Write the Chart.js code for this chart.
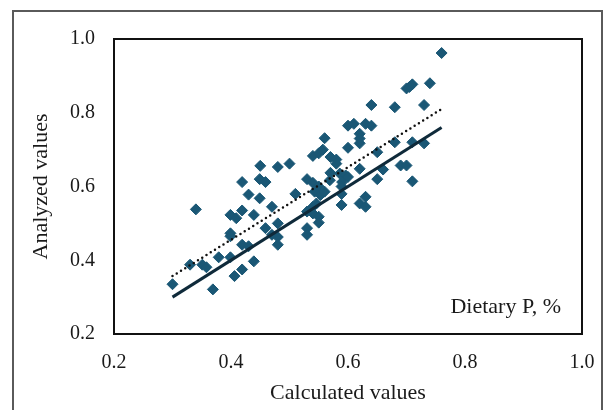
<!DOCTYPE html>
<html>
<head>
<meta charset="utf-8">
<script src="https://cdn.jsdelivr.net/npm/chart.js@4/dist/chart.umd.min.js"></script>
<style>
  body { margin: 0; background: #fff; }
  canvas { display: block; }
</style>
</head>
<body>
<canvas id="myChart" width="605" height="410"></canvas>
<script>
// calculated vs analyzed dietary P (%)
var calculated = [0.76,0.70,0.705,0.71,0.74,0.73,0.64,0.68,0.60,0.61,0.63,0.64,0.62,0.62,0.62,0.56,0.60,0.68,0.71,0.73,
  0.65,0.54,0.55,0.557,0.57,0.58,0.58,0.57,0.569,0.586,0.596,0.60,0.59,0.589,0.589,0.589,0.62,0.62,0.63,0.63,
  0.65,0.66,0.69,0.70,0.71,0.53,0.54,0.55,0.543,0.553,0.56,0.546,0.54,0.53,0.54,0.55,0.55,0.53,0.53,0.51,
  0.50,0.48,0.45,0.449,0.459,0.419,0.43,0.449,0.419,0.399,0.409,0.439,0.47,0.48,0.459,0.399,0.399,0.419,0.43,0.47,
  0.48,0.48,0.439,0.399,0.379,0.419,0.406,0.34,0.33,0.351,0.358,0.369,0.30];
var analyzed = [0.962,0.866,0.87,0.877,0.88,0.821,0.821,0.815,0.765,0.77,0.77,0.765,0.743,0.73,0.717,0.731,0.705,0.72,0.72,0.717,
  0.693,0.683,0.69,0.70,0.68,0.673,0.662,0.637,0.617,0.635,0.63,0.626,0.612,0.60,0.58,0.55,0.648,0.554,0.572,0.545,
  0.62,0.646,0.657,0.657,0.614,0.62,0.61,0.60,0.586,0.577,0.586,0.554,0.545,0.532,0.527,0.518,0.502,0.487,0.469,0.58,
  0.662,0.653,0.656,0.62,0.612,0.612,0.578,0.568,0.535,0.523,0.514,0.523,0.545,0.50,0.487,0.473,0.465,0.442,0.438,0.469,
  0.463,0.442,0.397,0.408,0.408,0.375,0.357,0.538,0.388,0.388,0.381,0.321,0.335];
var fitX = [0.30, 0.76];
var fitSolid = [0.30, 0.76];
var fitDotted = [0.357, 0.81];
var tickValues = [0.2, 0.4, 0.6, 0.8, 1.0];

function toPoints(xs, ys) {
  var pts = [];
  xs.forEach(function (x, i) { pts.push({x: x, y: ys[i]}); });
  return pts;
}

var serif = "'Liberation Serif', 'Times New Roman', serif";

var framePlugin = {
  id: 'frames',
  beforeDraw: function (chart) {
    var ctx = chart.ctx;
    ctx.save();
    ctx.strokeStyle = '#5a5a5a';
    ctx.lineWidth = 2;
    ctx.strokeRect(13, 11, 589, 420);
    ctx.restore();
  },
  afterDraw: function (chart) {
    var a = chart.chartArea;
    var ctx = chart.ctx;
    ctx.save();
    ctx.strokeStyle = '#111';
    ctx.lineWidth = 2;
    ctx.strokeRect(a.left, a.top, a.right - a.left, a.bottom - a.top);
    ctx.fillStyle = '#1a1a1a';
    ctx.font = "22px " + serif;
    ctx.textAlign = 'right';
    ctx.textBaseline = 'middle';
    ctx.fillText('Dietary P, %', a.right - 21, a.bottom - 27);
    ctx.restore();
  }
};

new Chart("myChart", {
  type: "scatter",
  data: {
    datasets: [{
      data: toPoints(calculated, analyzed),
      backgroundColor: '#1a5775',
      borderColor: '#1a5775',
      borderWidth: 1,
      pointStyle: 'rectRot',
      pointRadius: 5.5,
      order: 3
    }, {
      type: 'line',
      data: toPoints(fitX, fitDotted),
      borderColor: '#111',
      borderWidth: 2.5,
      borderDash: [0, 5],
      borderCapStyle: 'round',
      pointRadius: 0,
      fill: false,
      order: 2
    }, {
      type: 'line',
      data: toPoints(fitX, fitSolid),
      borderColor: '#0f2a3a',
      borderWidth: 3,
      pointRadius: 0,
      fill: false,
      order: 1
    }]
  },
  options: {
    responsive: false,
    animation: false,
    layout: {padding: {left: 0, top: 39, right: 23, bottom: 0}},
    plugins: {legend: {display: false}, tooltip: {enabled: false}},
    scales: {
      x: {
        type: 'linear',
        min: 0.2, max: 1.0,
        afterBuildTicks: function (s) { s.ticks = tickValues.map(function (v) { return {value: v}; }); },
        afterFit: function (s) { s.height = 76; s.paddingLeft = 0; s.paddingRight = 0; },
        grid: {display: false, drawTicks: false},
        border: {display: false},
        ticks: {
          padding: 17,
          color: '#1a1a1a',
          font: {family: serif, size: 20},
          callback: function (v) { return Number(v).toFixed(1); }
        },
        title: {
          display: true,
          text: 'Calculated values',
          color: '#1a1a1a',
          font: {family: serif, size: 22, lineHeight: 1.2},
          padding: {top: 0, bottom: 4}
        }
      },
      y: {
        type: 'linear',
        min: 0.2, max: 1.0,
        afterBuildTicks: function (s) { s.ticks = tickValues.map(function (v) { return {value: v}; }); },
        afterFit: function (s) { s.width = 114; s.paddingTop = 0; s.paddingBottom = 0; },
        grid: {display: false, drawTicks: false},
        border: {display: false},
        ticks: {
          padding: 19,
          color: '#1a1a1a',
          font: {family: serif, size: 20},
          callback: function (v) { return Number(v).toFixed(1); }
        },
        title: {
          display: true,
          text: 'Analyzed values',
          color: '#1a1a1a',
          font: {family: serif, size: 22, lineHeight: 1.2},
          padding: {top: 28, bottom: 0}
        }
      }
    }
  },
  plugins: [framePlugin]
});
</script>
</body>
</html>
